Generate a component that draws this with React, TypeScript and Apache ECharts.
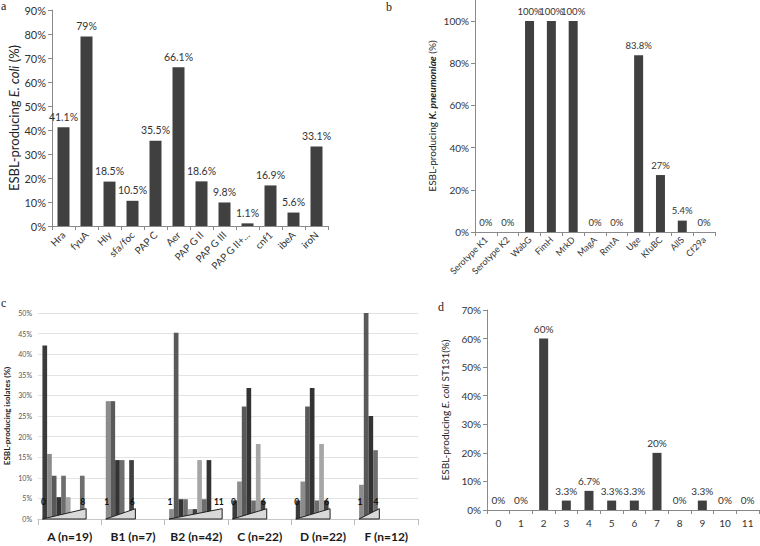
import React, { useEffect, useRef } from "react";
import * as echarts from "echarts";

// Panel a: virulence genes in ESBL-producing E. coli
const aCats = ["Hra", "fyuA", "Hly", "sfa/foc", "PAP C", "Aer", "PAP G II", "PAP G III", "PAP G II+...", "cnf1", "ibeA", "iroN"];
const aVals = [41.1, 79, 18.5, 10.5, 35.5, 66.1, 18.6, 9.8, 1.1, 16.9, 5.6, 33.1];

// Panel b: virulence genes in ESBL-producing K. pneumoniae
const bCats = ["Serotype K1", "Serotype K2", "WabG", "FimH", "MrkD", "MagA", "RmtA", "Uge", "KfuBC", "AllS", "Cf29a"];
const bVals = [0, 0, 100, 100, 100, 0, 0, 83.8, 27, 5.4, 0];

// Panel c: distribution of virulence-gene counts per phylogroup
const cGroups = ["A (n=19)", "B1 (n=7)", "B2 (n=42)", "C (n=22)", "D (n=22)", "F (n=12)"];
const cMin = [0, 1, 1, 0, 0, 1];
const cMax = [8, 6, 11, 6, 6, 4];
const cPctA = [42.1, 15.8, 10.5, 5.3, 10.5, 5.3, 0, 0, 10.5];
const cPctB1 = [28.6, 28.6, 14.3, 14.3, 0, 14.3];
const cPctB2 = [2.4, 45.2, 4.8, 4.8, 2.4, 2.4, 14.3, 4.8, 14.3, 0, 0];
const cPctC = [4.5, 9.1, 27.3, 31.8, 4.5, 18.2, 4.5];
const cPctD = [4.5, 9.1, 27.3, 31.8, 4.5, 18.2, 4.5];
const cPctF = [8.3, 50, 25, 16.7];
const cPct = [cPctA, cPctB1, cPctB2, cPctC, cPctD, cPctF];

// Panel d: ST131 by number of virulence genes
const dCats = ["0", "1", "2", "3", "4", "5", "6", "7", "8", "9", "10", "11"];
const dVals = [0, 0, 60, 3.3, 6.7, 3.3, 3.3, 20, 0, 3.3, 0, 0];

const grayByCount = ["#3b3b3b", "#8c8c8c", "#595959", "#333333", "#6e6e6e", "#a6a6a6", "#404040", "#a6a6a6", "#6e6e6e", "#333333", "#595959", "#808080"];

const FONT = 'Lato, "Open Sans", sans-serif';
const SERIF = '"Liberation Serif", "DejaVu Serif", serif';
const BAR = "#404040";
const AX = "#8a8a8a";

export default function App() {
  const ref = useRef<HTMLDivElement>(null);
  useEffect(() => {
    if (!ref.current) return;
    const chart = echarts.init(ref.current, undefined, { renderer: "svg" });

    const barData: number[][] = [];
    cPct.forEach((arr, g) => arr.forEach((v, k) => barData.push([g, k, v, cMin[g] + k])));
    const triData = cGroups.map((_, g) => [g, cMax[g] - cMin[g] + 1, 0]);

    const PAD = 0.07;
    const BW = 0.074;

    const pctLabel = (size: number) => ({
      show: true,
      position: "top",
      formatter: (p: any) => p.value + "%",
      fontSize: size,
      color: "#333",
      fontFamily: FONT,
    });

    const valAxis = (grid: number, max: number, interval: number, labelSize: number) => ({
      gridIndex: grid,
      type: "value",
      min: 0,
      max,
      interval,
      axisLine: { show: true, lineStyle: { color: AX } },
      axisTick: { show: true, length: 4, lineStyle: { color: AX } },
      splitLine: { show: false },
      axisLabel: { formatter: "{value}%", fontSize: labelSize, color: "#333", fontFamily: FONT, margin: 6 },
      nameLocation: "middle",
    });

    const catAxis = (grid: number, data: string[], rotate: number, size: number, margin: number) => ({
      gridIndex: grid,
      type: "category",
      data,
      axisLine: { show: true, lineStyle: { color: AX } },
      axisTick: { show: true, length: 4, lineStyle: { color: AX } },
      axisLabel: { rotate, fontSize: size, color: "#333", fontFamily: FONT, margin, interval: 0 },
    });

    const option: any = {
      animation: false,
      backgroundColor: "#fff",
      grid: [
        { left: 52, top: 10, width: 276, height: 216 },
        { left: 475, top: 0, width: 240, height: 232 },
        { left: 38, top: 313, width: 380, height: 206 },
        { left: 487, top: 310, width: 272, height: 200 },
      ],
      xAxis: [
        catAxis(0, aCats, 45, 10, 7),
        catAxis(1, bCats, 45, 9, 6),
        {
          gridIndex: 2,
          type: "category",
          data: cGroups,
          axisLine: { show: true, lineStyle: { color: "#c8c8c8" } },
          axisTick: { show: true, length: 6, lineStyle: { color: "#bbb" } },
          axisLabel: { fontSize: 12, fontWeight: "bold", color: "#1a1a1a", fontFamily: FONT, margin: 11, interval: 0 },
        },
        catAxis(3, dCats, 0, 10, 8),
      ],
      yAxis: [
        {
          ...valAxis(0, 90, 10, 11),
          name: "{n|ESBL-producing }{i|E. coli}{n| (%)}",
          nameGap: 26,
          nameTextStyle: {
            rich: {
              n: { fontSize: 13, color: "#222", fontFamily: FONT },
              i: { fontSize: 13, color: "#222", fontFamily: FONT, fontStyle: "italic" },
            },
          },
        },
        {
          ...valAxis(1, 110, 20, 10),
          axisLabel: { formatter: "{value}%", fontSize: 10, color: "#333", fontFamily: FONT, margin: 6, showMaxLabel: false },
          name: "{n|ESBL-producing }{bi|K. pneumoniae}{n| (%)}",
          nameGap: 38,
          nameTextStyle: {
            rich: {
              n: { fontSize: 10, color: "#222", fontFamily: FONT },
              bi: { fontSize: 10, color: "#222", fontFamily: FONT, fontStyle: "italic", fontWeight: "bold" },
            },
          },
        },
        {
          gridIndex: 2,
          type: "value",
          min: 0,
          max: 50,
          interval: 5,
          axisLine: { show: false },
          axisTick: { show: false },
          splitLine: { show: true, lineStyle: { color: "#e3e3e3" } },
          axisLabel: { formatter: "{value}%", fontSize: 7, color: "#555", fontFamily: FONT, margin: 6 },
          name: "ESBL-producing isolates (%)",
          nameLocation: "middle",
          nameGap: 27,
          nameTextStyle: { fontSize: 8, fontWeight: "bold", color: "#222", fontFamily: FONT },
        },
        {
          ...valAxis(3, 70, 10, 10),
          name: "{n|ESBL-producing }{i|E. coli}{n| ST131(%)}",
          nameGap: 37,
          nameTextStyle: {
            rich: {
              n: { fontSize: 10, color: "#222", fontFamily: FONT },
              i: { fontSize: 10, color: "#222", fontFamily: FONT, fontStyle: "italic" },
            },
          },
        },
      ],
      series: [
        {
          type: "bar",
          xAxisIndex: 0,
          yAxisIndex: 0,
          data: aVals,
          barWidth: 12,
          itemStyle: { color: BAR },
          label: pctLabel(10.5),
        },
        {
          type: "bar",
          xAxisIndex: 1,
          yAxisIndex: 1,
          data: bVals,
          barWidth: 9,
          itemStyle: { color: BAR },
          label: pctLabel(9.5),
        },
        {
          type: "custom",
          xAxisIndex: 2,
          yAxisIndex: 2,
          data: barData,
          encode: { x: 0, y: 2 },
          renderItem: (params: any, api: any) => {
            const g = api.value(0);
            const k = api.value(1);
            const v = api.value(2);
            const vf = api.value(3);
            const base = api.coord([g, 0]);
            const top = api.coord([g, v]);
            const band = api.size([1, 0])[0];
            const bw = band * BW;
            const x0 = base[0] - band / 2 + band * PAD + k * bw;
            return {
              type: "rect",
              shape: { x: x0, y: top[1], width: bw, height: base[1] - top[1] },
              style: { fill: grayByCount[vf] },
            };
          },
        },
        {
          type: "custom",
          xAxisIndex: 2,
          yAxisIndex: 2,
          data: triData,
          encode: { x: 0, y: 2 },
          z: 5,
          renderItem: (params: any, api: any) => {
            const g = api.value(0);
            const n = api.value(1);
            const base = api.coord([g, 0]);
            const hTop = api.coord([g, 2.5])[1];
            const lblY = api.coord([g, 4.2])[1];
            const band = api.size([1, 0])[0];
            const bw = band * BW;
            const xs = base[0] - band / 2 + band * PAD;
            const xe = xs + n * bw + 1.5;
            const txt = (s: string, x: number) => ({
              type: "text",
              x,
              y: lblY,
              style: {
                text: s,
                fontSize: 8.5,
                fontWeight: "bold",
                fontFamily: FONT,
                fill: "#111",
                align: "center",
                verticalAlign: "middle",
              },
            });
            return {
              type: "group",
              children: [
                {
                  type: "polygon",
                  shape: { points: [[xs, base[1]], [xe, base[1]], [xe, hTop]] },
                  style: { fill: "#d9d9d9", stroke: "#222", lineWidth: 1 },
                },
                txt(String(cMin[g]), xs + bw * 0.2),
                txt(String(cMax[g]), xe - bw * 0.7),
              ],
            };
          },
        },
        {
          type: "bar",
          xAxisIndex: 3,
          yAxisIndex: 3,
          data: dVals,
          barWidth: 9,
          itemStyle: { color: BAR },
          label: pctLabel(10),
        },
      ],
      graphic: [
        { type: "text", left: 1, top: 0, style: { text: "a", fontSize: 12, fontFamily: SERIF, fill: "#222" } },
        { type: "text", left: 386, top: 1, style: { text: "b", fontSize: 12, fontFamily: SERIF, fill: "#222" } },
        { type: "text", left: 1, top: 297, style: { text: "c", fontSize: 12, fontFamily: SERIF, fill: "#222" } },
        { type: "text", left: 438, top: 301, style: { text: "d", fontSize: 12, fontFamily: SERIF, fill: "#222" } },
      ],
    };

    chart.setOption(option);
    return () => chart.dispose();
  }, []);

  return (
    <div
      ref={ref}
      style={{ position: "absolute", left: 0, top: 0, width: 760, height: 546, background: "#fff" }}
    />
  );
}
